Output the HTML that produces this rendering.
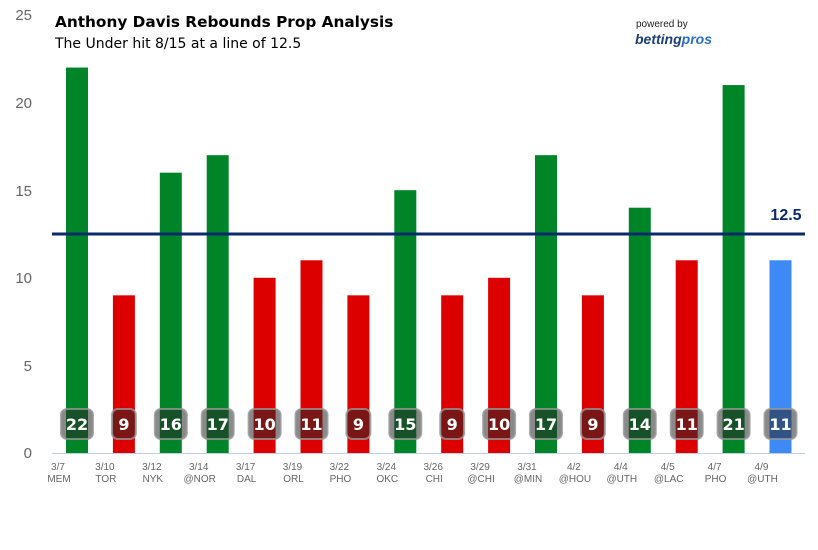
<!DOCTYPE html>
<html><head><meta charset="utf-8"><style>
body{margin:0;background:#fff;width:818px;height:545px;overflow:hidden;font-family:"Liberation Sans","DejaVu Sans",sans-serif}
</style></head><body>
<svg width="818" height="545" xmlns="http://www.w3.org/2000/svg" font-family="Liberation Sans, DejaVu Sans, sans-serif">
<g font-size="15" fill="#666" text-anchor="end">
<text x="32" y="458">0</text><text x="32" y="371">5</text><text x="32" y="283">10</text><text x="32" y="196">15</text><text x="32" y="108">20</text><text x="32" y="20">25</text>
</g>
<line x1="52" y1="453.5" x2="805" y2="453.5" stroke="#c0d0e0" stroke-width="1"/>
<text x="55" y="27" font-size="15.3" font-weight="bold" fill="#000" font-family="DejaVu Sans, sans-serif">Anthony Davis Rebounds Prop Analysis</text>
<text x="55" y="48" font-size="14" fill="#000" font-family="DejaVu Sans, sans-serif">The Under hit 8/15 at a line of 12.5</text>
<text x="636" y="27" font-size="10" fill="#222">powered by</text>
<text x="635" y="44" font-size="14" font-weight="bold" font-style="italic" fill="#1c3f7a">betting<tspan fill="#2a6fc0">pros</tspan></text>
<g id="bars"></g>
<line x1="52" y1="234" x2="805" y2="234" stroke="#0b2a6b" stroke-width="3"/>
<text x="786" y="220" font-size="16" font-weight="bold" fill="#0b2a6b" text-anchor="middle">12.5</text>
</svg>
<script>
var d=[[22,"3/7","MEM"],[9,"3/10","TOR"],[16,"3/12","NYK"],[17,"3/14","@NOR"],[10,"3/17","DAL"],[11,"3/19","ORL"],[9,"3/22","PHO"],[15,"3/24","OKC"],[9,"3/26","CHI"],[10,"3/29","@CHI"],[17,"3/31","@MIN"],[9,"4/2","@HOU"],[14,"4/4","@UTH"],[11,"4/5","@LAC"],[21,"4/7","PHO"],[11,"4/9","@UTH"]];
var s="";
d.forEach(function(e,i){
var cx=77+i*46.9,v=e[0],h=v*17.52,y=453-h;
var c=i==15?"#3d8af7":(v>12.5?"#008428":"#dd0000");
s+='<rect x="'+(cx-11)+'" y="'+y+'" width="22" height="'+h+'" fill="'+c+'"/>';
var w=v>=10?32:24;
s+='<rect x="'+(cx-w/2)+'" y="409" width="'+w+'" height="30" rx="6" fill="rgba(40,40,40,0.55)" stroke="rgba(150,150,150,0.8)" stroke-width="2"/>';
s+='<text x="'+cx+'" y="430" font-size="16" font-weight="bold" fill="#fff" text-anchor="middle" font-family="DejaVu Sans, sans-serif">'+v+'</text>';
var lx=cx-19;
s+='<text x="'+lx+'" y="470" font-size="10" fill="#666" text-anchor="middle">'+e[1]+'</text>';
s+='<text x="'+(lx+1)+'" y="482" font-size="10" fill="#666" text-anchor="middle">'+e[2]+'</text>';
});
document.getElementById("bars").innerHTML=s;
</script>
</body></html>
